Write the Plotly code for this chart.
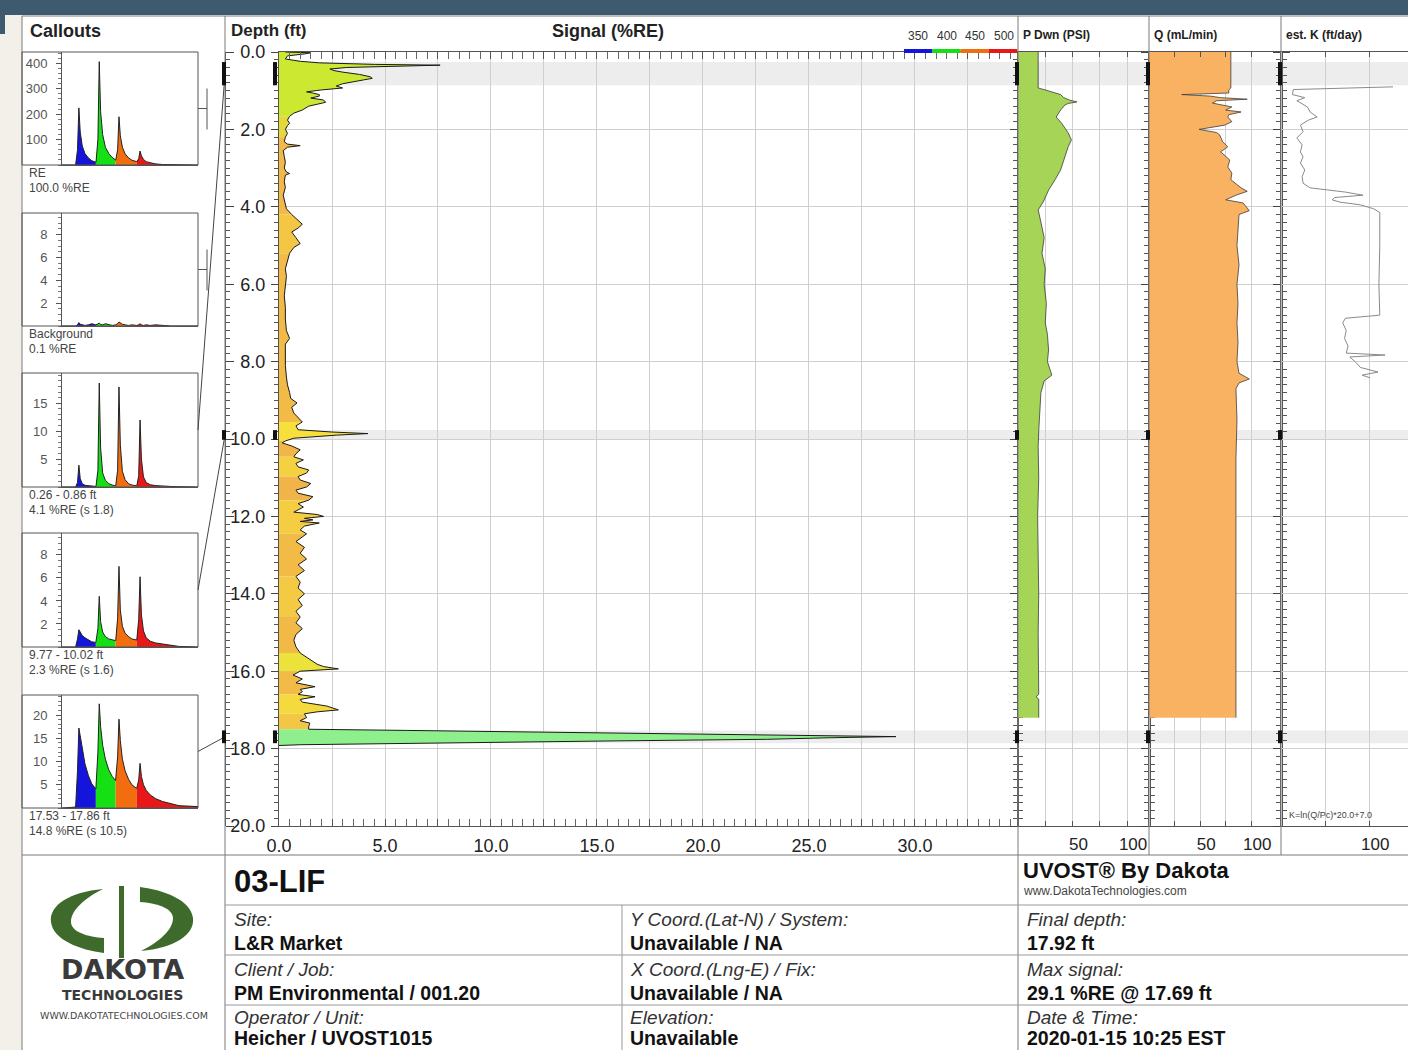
import plotly.graph_objects as go

W, H = 1408, 1050
FONT = "Liberation Sans, Arial, Helvetica, sans-serif"
LOGO_FONT = "DejaVu Sans, Verdana, sans-serif"

# ---------------- UVOST log: depth (ft) vs signal (%RE) ----------------
DEPTH_FT = [
    0.00, 0.02, 0.05, 0.10, 0.18, 0.24, 0.28, 0.32, 0.34, 0.36,
    0.40, 0.44, 0.48, 0.52, 0.58, 0.64, 0.68, 0.72, 0.77, 0.82,
    0.88, 0.93, 0.98, 1.03, 1.06, 1.10, 1.14, 1.19, 1.24, 1.30,
    1.35, 1.40, 1.50, 1.58, 1.66, 1.76, 1.84, 1.90, 2.00, 2.10,
    2.20, 2.32, 2.38, 2.42, 2.46, 2.55, 2.70, 2.85, 3.00, 3.10,
    3.14, 3.18, 3.35, 3.50, 3.70, 3.90, 4.05, 4.20, 4.35, 4.45,
    4.55, 4.65, 4.80, 4.95, 5.05, 5.20, 5.40, 5.60, 5.80, 6.00,
    6.30, 6.60, 6.90, 7.20, 7.40, 7.55, 7.80, 8.10, 8.40, 8.60,
    8.80, 8.95, 9.07, 9.18, 9.33, 9.45, 9.56, 9.66, 9.76, 9.82,
    9.86, 9.90, 9.95, 9.98, 10.05, 10.10, 10.18, 10.28, 10.38, 10.46,
    10.54, 10.63, 10.72, 10.80, 10.88, 10.97, 11.06, 11.15, 11.24, 11.32,
    11.40, 11.49, 11.58, 11.67, 11.76, 11.84, 11.89, 11.95, 12.00, 12.05,
    12.09, 12.13, 12.17, 12.25, 12.35, 12.45, 12.53, 12.65, 12.80, 12.95,
    13.10, 13.25, 13.40, 13.55, 13.70, 13.85, 14.00, 14.15, 14.30, 14.45,
    14.60, 14.75, 14.90, 15.05, 15.20, 15.37, 15.53, 15.70, 15.82, 15.88,
    15.94, 16.00, 16.10, 16.20, 16.30, 16.40, 16.47, 16.53, 16.60, 16.66,
    16.73, 16.80, 16.90, 17.00, 17.05, 17.10, 17.20, 17.28, 17.34, 17.44,
    17.50, 17.53, 17.58, 17.63, 17.69, 17.72, 17.76, 17.80, 17.84, 17.87,
    17.90, 17.92,
]
SIGNAL_RE = [
    0.3, 1.5, 1.2, 0.4, 0.3, 1.0, 1.9, 4.5, 7.6, 5.5,
    3.2, 2.4, 2.6, 3.0, 3.8, 4.3, 4.4, 4.0, 3.5, 3.0,
    2.7, 3.0, 2.0, 1.3, 1.6, 1.9, 1.9, 1.5, 2.1, 2.2,
    1.8, 1.4, 1.1, 0.7, 0.5, 0.4, 0.5, 0.4, 0.3, 0.4,
    0.3, 0.25, 0.4, 1.0, 0.4, 0.2, 0.25, 0.3, 0.25, 0.35,
    0.5, 0.3, 0.25, 0.3, 0.2, 0.3, 0.35, 0.6, 0.9, 1.1,
    0.9, 0.6, 0.8, 1.0, 0.7, 0.5, 0.4, 0.3, 0.35, 0.3,
    0.25, 0.3, 0.3, 0.35, 0.5, 0.3, 0.3, 0.3, 0.35, 0.4,
    0.5, 0.55, 0.85, 0.6, 0.7, 0.9, 1.1, 0.8, 0.9, 2.5,
    4.2, 2.7, 1.2, 0.7, 0.3, 0.15, 0.6, 1.0, 0.8, 0.7,
    1.15, 0.8, 0.9, 1.4, 1.3, 0.9, 1.0, 1.5, 1.3, 0.8,
    0.9, 1.6, 1.4, 0.9, 1.15, 0.9, 0.7, 1.8, 2.1, 1.2,
    1.6, 1.0, 1.9, 1.2, 1.0, 1.3, 1.1, 0.8, 1.2, 1.0,
    1.3, 0.9, 1.2, 0.8, 1.0, 0.9, 1.2, 0.9, 1.1, 0.8,
    1.0, 0.8, 1.1, 0.8, 0.7, 0.8, 1.0, 1.45, 1.8, 2.1,
    2.8, 1.0, 0.66, 1.1, 0.8, 1.7, 1.0, 1.1, 0.9, 1.7,
    1.0, 1.1, 2.25, 2.8, 1.8, 1.2, 1.3, 1.0, 1.45, 1.4,
    1.4, 6.0, 14.0, 22.0, 29.1, 26.0, 23.0, 16.0, 8.7, 3.5,
    1.0, 0.0,
]

# fill colour of the log by depth interval (bounds are sample depths)
SEG_BOUNDS = [0.00, 1.66, 2.20, 4.20, 5.20, 9.56, 10.05, 10.46, 10.97, 11.58,
              12.45, 13.55, 14.60, 15.53, 16.00, 16.60, 17.10, 17.50, 17.92]
SEG_COLORS = ["#cde830", "#e4d93a", "#f2b848", "#f4c644", "#f2ba47", "#f7e03c",
              "#f1b548", "#f5d040", "#f1b448", "#f4cd42", "#f2bb46", "#f4c943",
              "#f2b947", "#ece23c", "#f2ba46", "#f5da3e", "#f3c644", "#8ef08c"]

# ---------------- HPT logs ----------------
P_DEPTH = [0.0, 0.93, 0.98, 1.05, 1.10, 1.18, 1.24, 1.29, 1.33, 1.37,
           1.50, 1.68, 1.84, 2.09, 2.27, 2.45, 2.71, 3.05, 3.30, 3.57,
           3.88, 4.08, 4.40, 4.80, 5.20, 5.60, 6.00, 6.50, 7.00, 7.30,
           7.70, 8.00, 8.35, 8.50, 8.80, 9.20, 9.80, 10.20, 11.00, 12.00,
           13.00, 14.00, 15.00, 16.00, 16.60, 16.66, 16.72, 17.00, 17.20]
P_PSI = [18.5, 18.5, 25, 33, 39, 42, 47, 54, 46, 43,
         39, 35, 40, 46, 49, 46, 43, 39, 34, 28,
         23, 18.5, 21, 24, 22, 25, 24, 26, 25, 27,
         28, 27, 31, 24, 21, 20, 19, 18.5, 19, 18,
         18.5, 19, 18.5, 19, 19, 16.5, 19, 19, 19]

Q_DEPTH = [0.0, 0.93, 0.98, 1.06, 1.10, 1.14, 1.18, 1.22, 1.26, 1.32,
           1.42, 1.50, 1.55, 1.62, 1.68, 1.80, 1.89, 2.00, 2.08, 2.14,
           2.32, 2.45, 2.58, 2.79, 2.97, 3.13, 3.30, 3.51, 3.60, 3.70,
           3.82, 3.90, 4.00, 4.10, 4.20, 4.60, 5.00, 5.50, 6.00, 6.50,
           7.00, 7.50, 8.00, 8.30, 8.45, 8.55, 8.70, 9.50, 10.50, 12.00,
           14.00, 16.00, 17.20]
Q_MLMIN = [80, 80, 78, 78, 32, 60, 70, 96, 66, 62,
           81, 75, 90, 78, 77, 81, 74, 49, 66, 69,
           72, 77, 70, 79, 77, 81, 80, 90, 96, 85,
           75, 92, 95, 98, 88, 87, 86, 88, 86, 87,
           86, 87, 86, 88, 98, 88, 85, 86, 85, 85,
           85, 85, 85]

K_DEPTH = [0.90, 0.97, 1.10, 1.18, 1.26, 1.42, 1.55, 1.68, 1.76, 1.89,
           2.06, 2.22, 2.40, 2.58, 2.71, 2.87, 3.05, 3.22, 3.39, 3.51,
           3.62, 3.70, 3.76, 3.82, 3.88, 3.95, 4.05, 4.15, 5.00, 6.00,
           6.80, 6.88, 7.00, 7.20, 7.40, 7.60, 7.78, 7.83, 7.88, 8.00,
           8.15, 8.27, 8.35, 8.42]
K_FTDAY = [127, 14, 13, 27, 18, 30, 33, 41, 31, 22,
           25, 18, 24, 22, 25, 22, 27, 24, 25, 33,
           73, 93, 61, 58, 67, 90, 105, 112, 112, 111,
           112, 73, 70, 74, 72, 76, 74, 118, 78, 84,
           90, 110, 92, 101]

# ---------------- callouts ----------------
CALLOUT_TOP = [0.26, 9.77, 17.53]
CALLOUT_BOT = [0.86, 10.02, 17.86]

WAVE_NS = [0, 10, 11.4, 12.4, 13.4, 14.9, 16.9, 19.4, 21.9, 24.9,
           25.0, 26.4, 27.4, 28.4, 29.9, 31.9, 34.4, 36.9, 39.4,
           39.5, 40.9, 41.9, 42.9, 44.4, 46.4, 48.9, 51.4, 54.9,
           55.0, 56.4, 57.4, 58.4, 59.9, 61.9, 64.9, 68.9, 73.9, 79.9, 86.0, 100]
CH_SLICES = [(0, 10), (9, 19), (18, 28), (27, 40)]
CH_COLORS = ["#1414dc", "#14e014", "#f26d10", "#e81818"]
CH_LABELS = ["350", "400", "450", "500"]

WAVE_RE = [0, 0, 60, 225, 130, 75, 45, 28, 17, 11,
           11, 100, 407, 210, 120, 70, 45, 30, 21,
           19, 60, 190, 115, 70, 44, 28, 19, 13,
           13, 25, 55, 36, 22, 13, 8, 4, 2, 1, 0, 0]
WAVE_BG = [0, 0, 0.1, 0.3, 0.15, 0.1, 0.05, 0.1, 0.2, 0.1,
           0.1, 0.15, 0.25, 0.15, 0.1, 0.2, 0.1, 0.05, 0.1,
           0.1, 0.2, 0.35, 0.25, 0.15, 0.1, 0.05, 0.1, 0.05,
           0.05, 0.1, 0.2, 0.1, 0.05, 0.1, 0.05, 0.1, 0.05, 0, 0, 0]
WAVE_C1 = [0, 0, 0.8, 3.9, 1.5, 0.6, 0.3, 0.2, 0.15, 0.1,
           0.1, 3.0, 18.6, 7.0, 2.5, 1.2, 0.6, 0.35, 0.2,
           0.2, 3.0, 17.9, 7.5, 2.8, 1.3, 0.6, 0.35, 0.2,
           0.2, 2.0, 12.0, 5.0, 1.8, 0.8, 0.4, 0.25, 0.15, 0.1, 0.05, 0]
WAVE_C2 = [0, 0, 0.7, 1.5, 1.3, 1.0, 0.8, 0.6, 0.45, 0.4,
           0.4, 1.6, 4.4, 2.2, 1.3, 0.9, 0.7, 0.6, 0.55,
           0.55, 2.5, 7.0, 3.2, 1.8, 1.2, 0.9, 0.7, 0.6,
           0.6, 2.4, 6.1, 2.8, 1.4, 0.8, 0.5, 0.35, 0.25, 0.15, 0.05, 0]
WAVE_C3 = [0, 0.2, 8.0, 17.2, 15.5, 12.5, 9.5, 7.0, 5.2, 4.1,
           4.1, 12.0, 22.4, 17.5, 13.5, 10.5, 8.2, 6.8, 5.9,
           5.9, 11.0, 19.1, 14.5, 10.5, 8.0, 6.2, 5.0, 4.2,
           4.2, 6.0, 9.6, 6.8, 5.0, 3.8, 2.8, 2.0, 1.4, 0.9, 0.5, 0.3]
WAVES = [WAVE_RE, WAVE_BG, WAVE_C1, WAVE_C2, WAVE_C3]
WAVE_YMAX = [445, 9.9, 20.4, 9.9, 24.3]
WAVE_TICKS = [[100, 200, 300, 400], [2, 4, 6, 8], [5, 10, 15], [2, 4, 6, 8], [5, 10, 15, 20]]
WAVE_MINOR = [20, 0.5, 1, 0.5, 1]
CALLOUT_NAMES = ["RE", "Background", "0.26 - 0.86 ft", "9.77 - 10.02 ft", "17.53 - 17.86 ft"]
CALLOUT_VALUES = ["100.0 %RE", "0.1 %RE", "4.1 %RE (s 1.8)", "2.3 %RE (s 1.6)", "14.8 %RE (s 10.5)"]

SIG_TICKS = [0, 2.5, 5, 7.5, 10, 12.5, 15, 17.5, 20, 22.5, 25, 27.5, 30, 32.5]
SIG_TICKTEXT = ["0.0", "", "5.0", "", "10.0", "", "15.0", "", "20.0", "", "25.0", "", "30.0", ""]
HPT_TICKS = [25, 50, 75, 100]
HPT_TICKTEXT = ["", "50", "", "100"]
K_TICKS = [50, 100]
K_TICKTEXT = ["", "100"]

# ---------------- page geometry (px) ----------------
def fx(p):
    return p / W


def fy(p):
    return 1.0 - p / H


PLOT_TOP, PLOT_BOT = 52, 826
Y_DOM = [fy(PLOT_BOT), fy(PLOT_TOP)]
PANEL_Y = [(52, 165), (213, 326), (373, 487), (533, 647), (695, 808)]
GRID = "#cfcfcf"
AXLINE = "#555555"
FRAME = "#7a7a7a"

fig = go.Figure()

# signal log, filled by interval colour
for lo, hi, col in zip(SEG_BOUNDS[:-1], SEG_BOUNDS[1:], SEG_COLORS):
    idx = [i for i, d in enumerate(DEPTH_FT) if lo <= d <= hi]
    fig.add_trace(go.Scatter(
        x=[SIGNAL_RE[i] for i in idx], y=[DEPTH_FT[i] for i in idx],
        mode="lines", line=dict(width=0, color=col), fill="tozerox",
        fillcolor=col, hoverinfo="skip", xaxis="x", yaxis="y"))
fig.add_trace(go.Scatter(x=SIGNAL_RE, y=DEPTH_FT, mode="lines",
                         line=dict(color="#1a1a1a", width=1), xaxis="x", yaxis="y"))

# pressure, flow and estimated K
fig.add_trace(go.Scatter(x=P_PSI, y=P_DEPTH, mode="lines", fill="tozerox",
                         fillcolor="#a5d457", line=dict(color="#3c3c3c", width=0.8),
                         xaxis="x2", yaxis="y2"))
fig.add_trace(go.Scatter(x=Q_MLMIN, y=Q_DEPTH, mode="lines", fill="tozerox",
                         fillcolor="#f9b262", line=dict(color="#3c3c3c", width=0.8),
                         xaxis="x3", yaxis="y3"))
fig.add_trace(go.Scatter(x=K_FTDAY, y=K_DEPTH, mode="lines",
                         line=dict(color="#8a8a8a", width=1), xaxis="x4", yaxis="y4"))
# depth ruler on the callout side
fig.add_trace(go.Scatter(x=[None], y=[None], xaxis="x", yaxis="y5", hoverinfo="skip"))

# callout waveforms
for k, amps in enumerate(WAVES):
    xa, ya = f"x{6 + k}", f"y{6 + k}"
    for (a, b), col in zip(CH_SLICES, CH_COLORS):
        fig.add_trace(go.Scatter(x=WAVE_NS[a:b], y=amps[a:b], mode="lines",
                                 line=dict(width=0, color=col), fill="tozeroy",
                                 fillcolor=col, hoverinfo="skip", xaxis=xa, yaxis=ya))
    fig.add_trace(go.Scatter(x=WAVE_NS, y=amps, mode="lines",
                             line=dict(color="#222222", width=1), xaxis=xa, yaxis=ya))

layout = dict(
    width=W, height=H, autosize=False, margin=dict(l=0, r=0, t=0, b=0, pad=0),
    paper_bgcolor="white", plot_bgcolor="rgba(0,0,0,0)", showlegend=False,
    font=dict(family=FONT, color="#222222"), hovermode=False,
)

depth_common = dict(range=[20, 0], domain=Y_DOM, tickmode="linear", tick0=0, dtick=2,
                    showgrid=True, gridcolor=GRID, gridwidth=1, zeroline=False,
                    showline=True, linecolor=AXLINE, ticks="outside", ticklen=7,
                    tickcolor="#444444", automargin=False,
                    minor=dict(ticks="outside", ticklen=4, tick0=0, dtick=0.2,
                               tickcolor="#555555", showgrid=False))

layout["xaxis"] = dict(domain=[fx(279), fx(1018)], range=[0, 34.86], anchor="y",
                       tickmode="array", tickvals=SIG_TICKS, ticktext=SIG_TICKTEXT,
                       ticks="inside", ticklen=7, tickcolor="#555555", automargin=False,
                       minor=dict(ticks="inside", ticklen=4, tick0=0, dtick=0.5,
                                  tickcolor="#666666", showgrid=False),
                       showgrid=True, gridcolor=GRID, zeroline=False,
                       showline=True, linecolor=AXLINE, mirror="allticks",
                       tickfont=dict(size=18, color="#222222"), ticklabelstandoff=3)
layout["yaxis"] = dict(depth_common, anchor="x", mirror="allticks", tickformat=".1f",
                       tickfont=dict(size=18, color="#222222"), ticklabelstandoff=2)

hpt_x = dict(tickmode="array", ticks="inside", ticklen=5, tickcolor="#555555",
             showgrid=True, gridcolor=GRID, zeroline=False, showline=True,
             linecolor=AXLINE, mirror="allticks", tickfont=dict(size=17, color="#222222"),
             ticklabelstandoff=3, ticklabelshift=6, automargin=False)
layout["xaxis2"] = dict(hpt_x, domain=[fx(1018), fx(1150)], range=[0, 121], anchor="y2",
                        tickvals=HPT_TICKS, ticktext=HPT_TICKTEXT)
layout["xaxis3"] = dict(hpt_x, domain=[fx(1149), fx(1282)], range=[0, 130], anchor="y3",
                        tickvals=HPT_TICKS, ticktext=HPT_TICKTEXT)
layout["xaxis4"] = dict(hpt_x, domain=[fx(1281), 1.0], range=[0, 144], anchor="y4",
                        tickvals=K_TICKS, ticktext=K_TICKTEXT)
layout["yaxis2"] = dict(depth_common, anchor="x2", mirror="allticks", showticklabels=False)
layout["yaxis3"] = dict(depth_common, anchor="x3", mirror="allticks", showticklabels=False)
layout["yaxis4"] = dict(depth_common, anchor="x4", showticklabels=False)
layout["yaxis5"] = dict(range=[20, 0], overlaying="y", anchor="free", position=fx(225),
                        side="right", tickmode="linear", tick0=0, dtick=2, ticks="outside",
                        ticklen=8, tickcolor="#444444", showticklabels=False,
                        showgrid=False, zeroline=False, showline=True, linecolor=AXLINE,
                        automargin=False,
                        minor=dict(ticks="outside", ticklen=4, tick0=0, dtick=0.2,
                                   tickcolor="#555555"))

for k in range(5):
    top, bot = PANEL_Y[k]
    layout[f"xaxis{6 + k}"] = dict(domain=[fx(62), fx(198)], range=[0, 100], anchor=f"y{6 + k}",
                                   showline=True, linecolor=AXLINE, ticks="",
                                   showticklabels=False, showgrid=False, zeroline=False,
                                   automargin=False)
    layout[f"yaxis{6 + k}"] = dict(domain=[fy(bot), fy(top)], range=[0, WAVE_YMAX[k]],
                                   anchor=f"x{6 + k}", tickmode="array", tickvals=WAVE_TICKS[k],
                                   ticks="outside", ticklen=5, tickcolor="#555555",
                                   minor=dict(ticks="outside", ticklen=3, tick0=0,
                                              dtick=WAVE_MINOR[k], tickcolor="#777777"),
                                   showline=True, linecolor=AXLINE, showgrid=False,
                                   zeroline=False, tickfont=dict(size=13, color="#555555"),
                                   ticklabelstandoff=6, automargin=False)

# ---------------- shapes ----------------
shapes = []


def line_px(x0, y0, x1, y1, color=FRAME, width=1, layer="above"):
    shapes.append(dict(type="line", xref="paper", yref="paper", x0=fx(x0), y0=fy(y0),
                       x1=fx(x1), y1=fy(y1), line=dict(color=color, width=width), layer=layer))


def rect_px(x0, y0, x1, y1, fill, layer="below", edge=None):
    shapes.append(dict(type="rect", xref="paper", yref="paper", x0=fx(x0), y0=fy(y1),
                       x1=fx(x1), y1=fy(y0), fillcolor=fill, layer=layer,
                       line=dict(width=1 if edge else 0, color=edge or fill)))


# page surround
rect_px(0, 0, W, 15, "#3d5a6e")
rect_px(0, 15, 22, H, "#f3efe9")
rect_px(0, 15, 5, 34, "#3d5a6e")

# callout depth bands across the logs
for t, b in zip(CALLOUT_TOP, CALLOUT_BOT):
    shapes.append(dict(type="rect", xref="paper", yref="y", x0=fx(279), x1=1.0, y0=t, y1=b,
                       fillcolor="#e8e8e8", opacity=0.8, line=dict(width=0), layer="below"))

# frame
line_px(22, 16, 22, H)
line_px(22, 16, W, 16)
line_px(225, 16, 225, H)
line_px(1018, 16, 1018, H)
line_px(1149, 16, 1149, 855)
line_px(1281, 16, 1281, 855)
line_px(22, 855, W, 855)
for yy in (905, 955, 1005):
    line_px(225, yy, W, yy, color="#999999")
line_px(622, 905, 622, H, color="#999999")

# callout cells
for top, bot in PANEL_Y:
    shapes.append(dict(type="rect", xref="paper", yref="paper", x0=fx(22), x1=fx(198),
                       y0=fy(bot), y1=fy(top), line=dict(color=AXLINE, width=1),
                       fillcolor="rgba(0,0,0,0)", layer="above"))

# brackets for the reference and background callouts
for top, bot in PANEL_Y[:2]:
    mid = (top + bot) / 2
    line_px(198, mid, 207, mid, color="#555555")
    line_px(207, mid - 20, 207, mid + 21, color="#555555")

# leader lines from depth intervals to their callouts
DEPTH_PX = (PLOT_BOT - PLOT_TOP) / 20.0
for (t, b), (top, bot) in zip(zip(CALLOUT_TOP, CALLOUT_BOT), PANEL_Y[2:]):
    dmid = PLOT_TOP + (t + b) / 2 * DEPTH_PX
    line_px(225, dmid, 198, (top + bot) / 2, color="#444444")

# callout markers on each depth axis
for t, b in zip(CALLOUT_TOP, CALLOUT_BOT):
    for xp in (224, 275, 1017, 1148, 1280):
        shapes.append(dict(type="line", xref="paper", yref="y", x0=fx(xp), x1=fx(xp),
                           y0=t, y1=b, line=dict(color="#111111", width=4), layer="above"))

# wavelength colour key
for i, col in enumerate(CH_COLORS):
    rect_px(904 + i * 28.3, 49, 904 + (i + 1) * 28.3, 53, col, layer="above")


# logo
def path_px(cmds):
    out = []
    for c, pts in cmds:
        out.append(c + " " + " ".join(f"{fx(x):.5f},{fy(y):.5f}" for x, y in pts))
    return " ".join(out) + " Z"


LOGO_GREEN = "#3e6b2b"
left_arc = [("M", [(103, 889)]),
            ("C", [(70, 892), (49, 905), (51, 922)]),
            ("C", [(53, 940), (80, 950), (104, 953)]),
            ("L", [(104, 938)]),
            ("C", [(88, 937), (71, 932), (71, 922)]),
            ("C", [(71, 910), (85, 898), (103, 889)])]
right_arc = [("M", [(141, 951)]),
             ("C", [(174, 948), (195, 935), (193, 918)]),
             ("C", [(191, 900), (164, 890), (140, 887)]),
             ("L", [(140, 902)]),
             ("C", [(156, 903), (173, 908), (173, 918)]),
             ("C", [(173, 930), (159, 942), (141, 951)])]
for p in (left_arc, right_arc):
    shapes.append(dict(type="path", xref="paper", yref="paper", path=path_px(p),
                       fillcolor=LOGO_GREEN, line=dict(width=0), layer="above"))
rect_px(119, 886, 124, 958, LOGO_GREEN, layer="above")

layout["shapes"] = shapes

# ---------------- text ----------------
ann = []


def txt(x, y, s, size, color="#222222", xanchor="left", family=FONT):
    ann.append(dict(x=fx(x), y=fy(y), xref="paper", yref="paper", text=s, showarrow=False,
                    xanchor=xanchor, yanchor="middle",
                    font=dict(size=size, color=color, family=family)))


txt(28, 31, "<b>Callouts</b>", 18)
txt(229, 31, "<b>Depth (ft)</b>", 17)
txt(608, 31, "<b>Signal (%RE)</b>", 18, xanchor="center")
for i, lab in enumerate(CH_LABELS):
    txt(918 + i * 28.5, 36, lab, 12, color="#333333", xanchor="center")
txt(1021, 35, "<b>P Dwn (PSI)</b>", 12)
txt(1152, 35, "<b>Q (mL/min)</b>", 12)
txt(1284, 35, "<b>est. K (ft/day)</b>", 12)
txt(1287, 815, "K=ln(Q/Pc)*20.0+7.0", 9, color="#444444")

for k in range(5):
    bot = PANEL_Y[k][1]
    txt(27, bot + 8, CALLOUT_NAMES[k], 12, color="#444444")
    txt(27, bot + 23, CALLOUT_VALUES[k], 12, color="#444444")

# title block
txt(232, 881, "<b>03-LIF</b>", 31, color="#111111")
txt(1021, 870, "<b>UVOST® By Dakota</b>", 22, color="#111111")
txt(1021, 891, "www.DakotaTechnologies.com", 12, color="#444444")

ROW_Y = [(919, 943), (969, 993), (1017, 1038)]
COL_X = [232, 628, 1025]
CELL_LABELS = [["Site:", "Y Coord.(Lat-N) / System:", "Final depth:"],
               ["Client / Job:", "X Coord.(Lng-E) / Fix:", "Max signal:"],
               ["Operator / Unit:", "Elevation:", "Date & Time:"]]
CELL_VALUES = [["L&R Market", "Unavailable / NA", "17.92 ft"],
               ["PM Environmental / 001.20", "Unavailable / NA", "29.1 %RE @ 17.69 ft"],
               ["Heicher / UVOST1015", "Unavailable", "2020-01-15 10:25 EST"]]
for r, (yl, yv) in enumerate(ROW_Y):
    for c, xc in enumerate(COL_X):
        txt(xc, yl, f"<i>{CELL_LABELS[r][c]}</i>", 19, color="#333333")
        txt(xc, yv, f"<b>{CELL_VALUES[r][c]}</b>", 19.5, color="#111111")

txt(122, 969, "<b>DAKOTA</b>", 27, color="#3a3a3a", xanchor="center", family=LOGO_FONT)
txt(122, 995, "<b>TECHNOLOGIES</b>", 14, color="#3a3a3a", xanchor="center", family=LOGO_FONT)
txt(124, 1015, "WWW.DAKOTATECHNOLOGIES.COM", 9.5, color="#444444", xanchor="center",
    family=LOGO_FONT)

layout["annotations"] = ann
fig.update_layout(layout)
fig.write_html("out.html",
               post_script="document.body.style.margin='0';document.body.style.overflow='hidden';")
